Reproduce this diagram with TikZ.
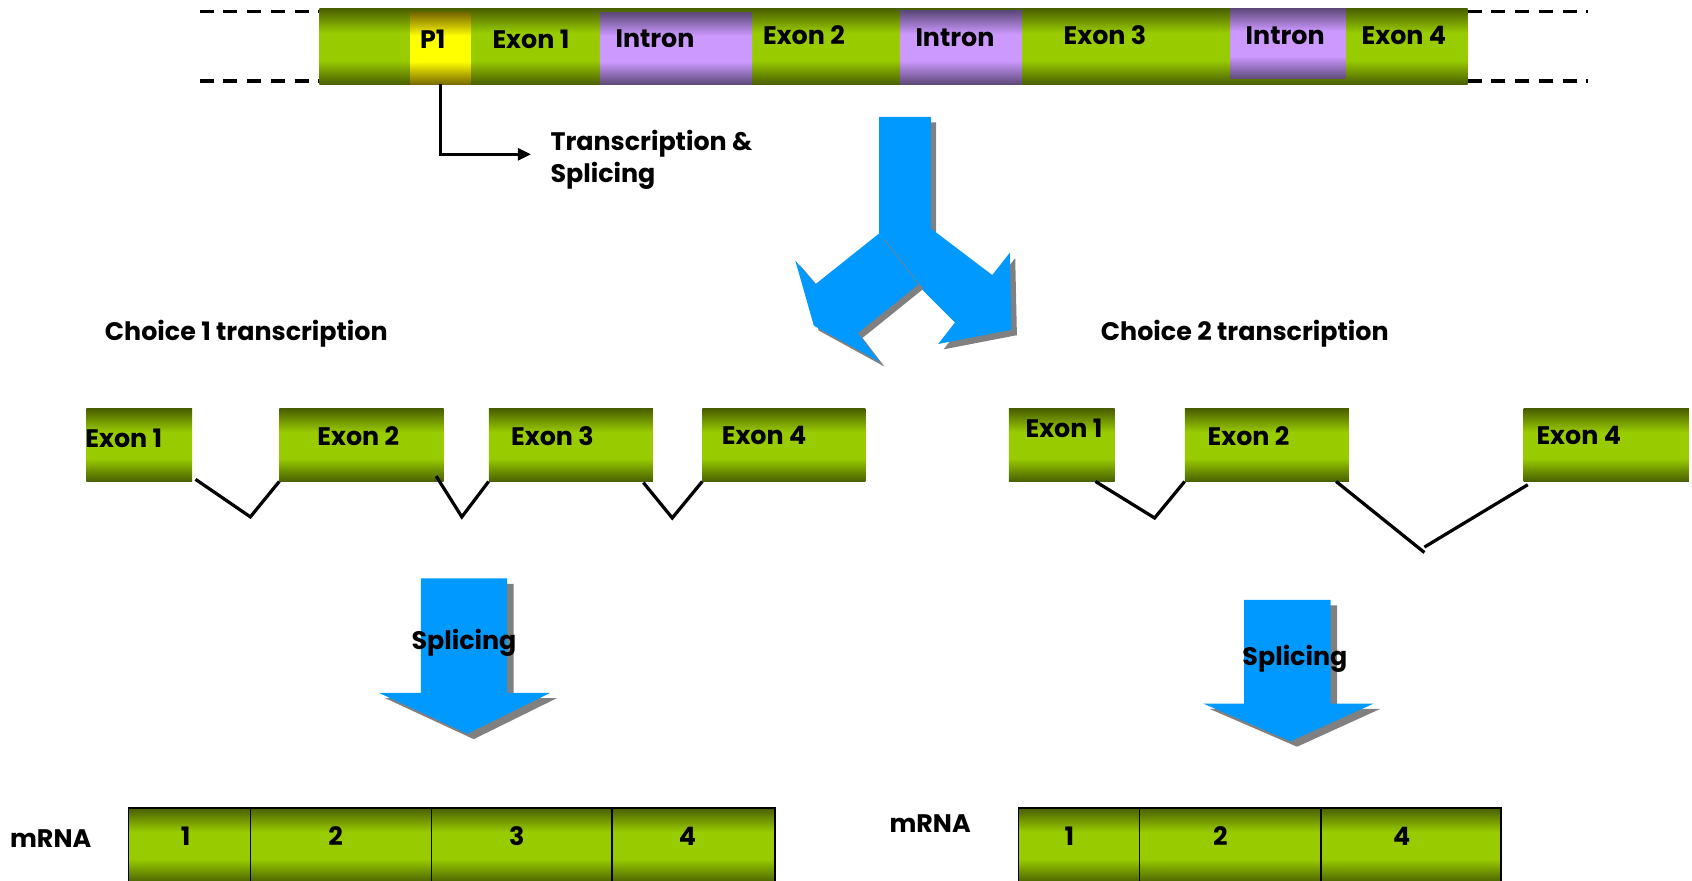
\documentclass[tikz,border=0pt]{standalone}
\usepackage{fontspec}
\setmainfont{Poppins}
\usetikzlibrary{arrows.meta}
\definecolor{gdark}{RGB}{74,96,0}
\definecolor{glight}{RGB}{153,204,0}
\definecolor{pdark}{RGB}{94,74,122}
\definecolor{plight}{RGB}{204,153,255}
\definecolor{ydark}{RGB}{122,106,0}
\definecolor{ylight}{RGB}{255,255,0}
\definecolor{arrowblue}{RGB}{0,153,255}
\definecolor{shadowgray}{RGB}{128,128,128}
\pgfdeclareverticalshading{greenband}{100bp}{color(0bp)=(gdark); color(25bp)=(gdark); color(41bp)=(glight); color(59bp)=(glight); color(75bp)=(gdark); color(100bp)=(gdark)}
\pgfdeclareverticalshading{purpleband}{100bp}{color(0bp)=(pdark); color(25bp)=(pdark); color(41bp)=(plight); color(59bp)=(plight); color(75bp)=(pdark); color(100bp)=(pdark)}
\pgfdeclareverticalshading{yellowband}{100bp}{color(0bp)=(ydark); color(25bp)=(ydark); color(41bp)=(ylight); color(59bp)=(ylight); color(75bp)=(ydark); color(100bp)=(ydark)}
\tikzset{
  lbl/.style={font=\fontsize{23.5}{29}\selectfont\bfseries, inner sep=0pt},
  greenbox/.style={shading=greenband, draw=none, inner sep=0pt},
  purplebox/.style={shading=purpleband, draw=none, inner sep=0pt},
  yellowbox/.style={shading=yellowband, draw=none, inner sep=0pt},
  dashline/.style={line width=3pt, dash pattern=on 13pt off 9pt},
  spliceline/.style={line width=3pt},
  bluefill/.style={fill=arrowblue, draw=none},
  shadowfill/.style={fill=shadowgray, draw=none},
}
\begin{document}
\begin{tikzpicture}[x=1pt,y=-1pt]
\useasboundingbox (0,0) rectangle (1568,816);

% ---------- top gene bar ----------
\draw[dashline] (185,11) -- (296,11);
\draw[dashline] (185,75) -- (296,75);
\draw[dashline] (1360,11) -- (1472,11);
\draw[dashline] (1360,75) -- (1472,75);
\node[greenbox, minimum width=1064, minimum height=70] (gene) at (828,43) {};
\node[yellowbox, minimum width=56, minimum height=66] (p1) at (408,45) {};
\node[purplebox, minimum width=141, minimum height=66] (in1) at (626.5,45) {};
\node[purplebox, minimum width=113, minimum height=68] (in2) at (890.5,44) {};
\node[purplebox, minimum width=107, minimum height=65] (in3) at (1193.5,40.5) {};
\node[lbl] (tp1) at (401,36) {P1};
\node[lbl] (tex1) at (492,36) {Exon 1};
\node[lbl] (tin1) at (607,36) {Intron};
\node[lbl] (tex2) at (745,33) {Exon 2};
\node[lbl] (tin2) at (885,35) {Intron};
\node[lbl] (tex3) at (1024,33) {Exon 3};
\node[lbl] (tin3) at (1191,33) {Intron};
\node[lbl] (tex4) at (1301,33) {Exon 4};

% transcription arrow
\coordinate (tstip) at (492,143);
\draw[line width=2.8pt, -{Triangle[length=12pt,width=11pt]}] (p1.south) |- (tstip);
\node[lbl, anchor=west, align=left] (tslabel) at (510,148) {Transcription \&\\Splicing};

% ---------- big three-way arrow ----------
\begin{scope}[shift={(722.9,92.7)}, scale=0.3131]
  \fill[shadowfill, shift={(16,16)}] (293,50) -- (446,50) -- (446,380) -- (628,518) -- (680,452) -- (685,680) -- (468,722) -- (518,658) -- (420,560) -- (293,395) -- cycle;
  \fill[bluefill] (293,50) -- (446,50) -- (446,380) -- (628,518) -- (680,452) -- (685,680) -- (468,722) -- (518,658) -- (420,560) -- (293,395) -- cycle;
  \fill[shadowfill, shift={(14,14)}] (293,395) -- (105,545) -- (45,475) -- (100,668) -- (295,775) -- (230,690) -- (410,545) -- cycle;
  \fill[bluefill] (293,395) -- (105,545) -- (45,475) -- (100,668) -- (295,775) -- (230,690) -- (410,545) -- cycle;
\end{scope}

% ---------- choice 1 ----------
\node[lbl, anchor=west] (c1) at (97,309) {Choice 1 transcription};
\node[greenbox, minimum width=98, minimum height=67] (a1) at (129,412.5) {};
\node[greenbox, minimum width=152, minimum height=67] (a2) at (335,412.5) {};
\node[greenbox, minimum width=152, minimum height=67] (a3) at (529,412.5) {};
\node[greenbox, minimum width=151, minimum height=67] (a4) at (726.5,412.5) {};
\node[lbl, anchor=west] (ta1) at (79,406) {Exon 1};
\node[lbl] (ta2) at (332,404) {Exon 2};
\node[lbl] (ta3) at (512,404) {Exon 3};
\node[lbl] (ta4) at (708,404) {Exon 4};
\coordinate (va1) at (232,479);
\coordinate (va2) at (428,479);
\coordinate (va3) at (623,480);
\draw[spliceline] ([shift={(3,-2)}]a1.south east) -- (va1) -- (a2.south west);
\draw[spliceline] ([shift={(-7,-5)}]a2.south east) -- (va2) -- (a3.south west);
\draw[spliceline] ([shift={(-9,1)}]a3.south east) -- (va3) -- (a4.south west);

% ---------- choice 2 ----------
\node[lbl, anchor=west] (c2) at (1020,309) {Choice 2 transcription};
\node[greenbox, minimum width=98, minimum height=67] (b1) at (984,412.5) {};
\node[greenbox, minimum width=152, minimum height=67] (b2) at (1174,412.5) {};
\node[greenbox, minimum width=153, minimum height=67] (b4) at (1488.5,412.5) {};
\node[lbl] (tb1) at (986,397) {Exon 1};
\node[lbl] (tb2) at (1157,404) {Exon 2};
\node[lbl] (tb4) at (1463,404) {Exon 4};
\coordinate (vb1) at (1070,480);
\coordinate (vb2) at (1320,512);
\coordinate (vb2b) at (1320,507);
\draw[spliceline] ([shift={(-18,0)}]b1.south east) -- (vb1) -- (b2.south west);
\draw[spliceline] ([shift={(-12,0)}]b2.south east) -- (vb2);
\draw[spliceline] (vb2b) -- ([shift={(4,3)}]b4.south west);

% ---------- splicing arrows ----------
\fill[shadowfill, shift={(6,5)}] (390,536) -- (470,536) -- (470,642) -- (510,642) -- (433,680) -- (351,642) -- (390,642) -- cycle;
\fill[bluefill] (390,536) -- (470,536) -- (470,642) -- (510,642) -- (433,680) -- (351,642) -- (390,642) -- cycle;
\node[lbl] (sp1) at (430,596) {Splicing};

\fill[shadowfill, shift={(6,5)}] (1153,556) -- (1233,556) -- (1233,652) -- (1273,652) -- (1196,687) -- (1115,652) -- (1153,652) -- cycle;
\fill[bluefill] (1153,556) -- (1233,556) -- (1233,652) -- (1273,652) -- (1196,687) -- (1115,652) -- (1153,652) -- cycle;
\node[lbl] (sp2) at (1200,611) {Splicing};

% ---------- mRNA ----------
\node[lbl] (m1) at (47,777) {mRNA};
\shade[shading=greenband] (119,749) rectangle (718,818);
\draw[line width=1.5pt] (119,818) -- (119,749) -- (718,749) -- (718,818);
\draw[line width=1.5pt] (232,749) -- (232,818) (400,749) -- (400,818) (567,749) -- (567,818);
\node[lbl] (n11) at (172,775) {1};
\node[lbl] (n12) at (311,775) {2};
\node[lbl] (n13) at (479,775) {3};
\node[lbl] (n14) at (637,775) {4};

\node[lbl] (m2) at (862,763) {mRNA};
\shade[shading=greenband] (944,749) rectangle (1391,818);
\draw[line width=1.5pt] (944,818) -- (944,749) -- (1391,749) -- (1391,818);
\draw[line width=1.5pt] (1056,749) -- (1056,818) (1224,749) -- (1224,818);
\node[lbl] (n21) at (991,775) {1};
\node[lbl] (n22) at (1131,775) {2};
\node[lbl] (n24) at (1299,775) {4};
\end{tikzpicture}
\end{document}
